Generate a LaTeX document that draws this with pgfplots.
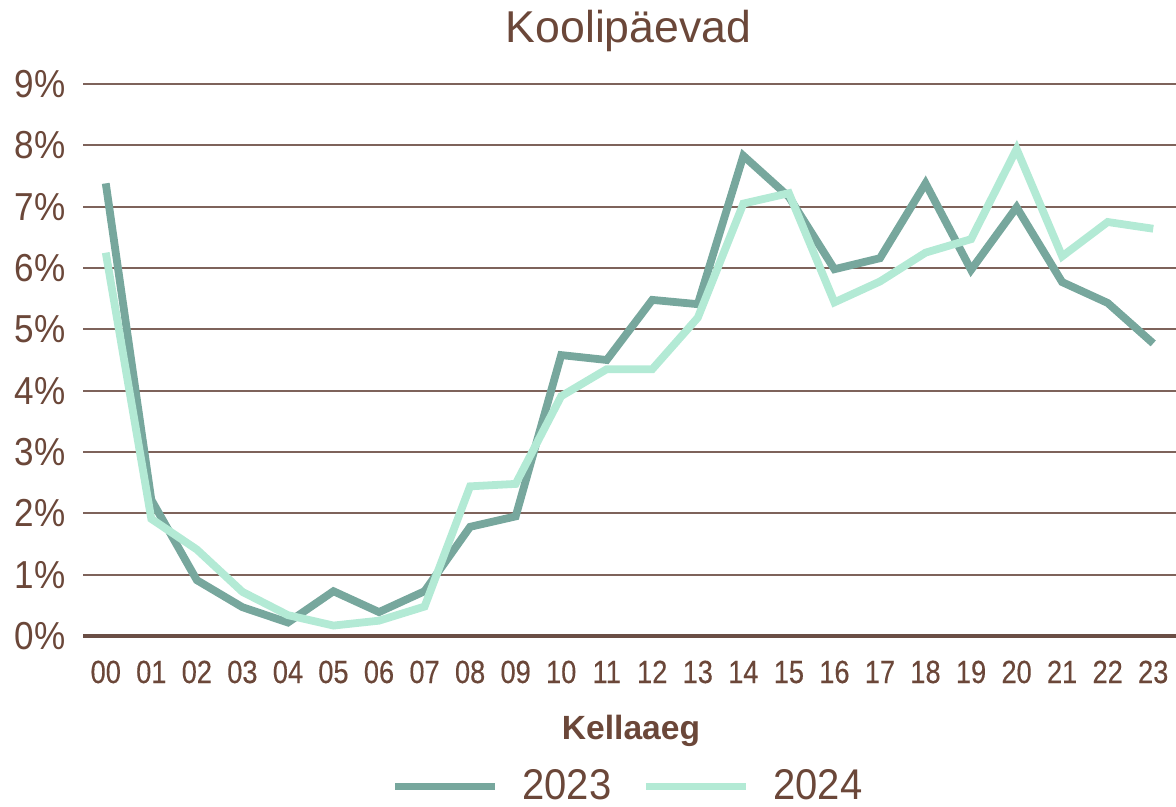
\documentclass[border=0pt]{standalone}
\usepackage{pgfplots}
\pgfplotsset{compat=1.18}
\usepackage{fontspec}
\setmainfont{Liberation Sans}
\newfontfamily\tickyfont[FakeStretch=0.9]{Liberation Sans}
\newfontfamily\tickxfont[FakeStretch=0.85,FakeBold=0.3]{Liberation Sans}
\newfontfamily\legfont[FakeStretch=0.93]{Liberation Sans}
\definecolor{txt}{HTML}{6B4739}
\definecolor{gridc}{HTML}{7E635B}
\definecolor{zero}{HTML}{6A4E45}
\definecolor{c23}{HTML}{77A79D}
\definecolor{c24}{HTML}{B3EAD5}
\begin{document}
\begin{tikzpicture}
\useasboundingbox (0,0) rectangle (588bp,403.5bp);
\begin{axis}[
  at={(41.5bp,85.5bp)}, anchor=south west,
  scale only axis, width=546.5bp, height=276bp,
  xmin=-0.5, xmax=23.5, ymin=0, ymax=9,
  clip=false,
  axis line style={draw=none},
  major tick length=0pt,
  xtick={0,...,23},
  xticklabels={00,01,02,03,04,05,06,07,08,09,10,11,12,13,14,15,16,17,18,19,20,21,22,23},
  xticklabel style={font=\tickxfont\fontsize{16bp}{16bp}\selectfont, text=txt, anchor=base, yshift=-23.5bp, inner sep=0pt},
  ytick={1,...,9},
  yticklabels={1\%,2\%,3\%,4\%,5\%,6\%,7\%,8\%,9\%},
  extra y ticks={0},
  extra y tick labels={0\%},
  extra y tick style={grid style={line width=2bp, color=zero}},
  yticklabel style={font=\tickyfont\fontsize{19.5bp}{19.5bp}\selectfont, text=txt, anchor=east, inner sep=0pt, xshift=-8.5bp},
  ymajorgrids,
  grid style={line width=1.1bp, color=gridc},
  title={Koolipäevad},
  title style={font=\fontsize{22.3bp}{22.3bp}\selectfont, text=txt, at={(0.4991,1.0544)}, anchor=base, inner sep=0pt},
  xlabel={Kellaaeg},
  xlabel style={font=\bfseries\fontsize{16.8bp}{16.8bp}\selectfont, text=txt, at={(0.5014,-0.1866)}, anchor=base, inner sep=0pt},
  legend columns=2,
  legend style={draw=none, fill=none, at={(0.4995,-0.2718)}, anchor=center, inner sep=0pt,
    font=\legfont\fontsize{21.5bp}{21.5bp}\selectfont, text=txt,
    /tikz/every even column/.append style={column sep=13.5bp}},
  legend image code/.code={\draw[#1, line width=3.5bp, line cap=butt] (0bp,0bp) -- (50bp,0bp);},
  every axis plot/.append style={line width=3.9bp, line join=miter},
]
\addplot[c23] coordinates {
(0,7.38) (1,2.22) (2,0.91) (3,0.47) (4,0.22) (5,0.73) (6,0.39) (7,0.73) (8,1.78) (9,1.95)
(10,4.58) (11,4.50) (12,5.48) (13,5.41) (14,7.83) (15,7.16) (16,5.98) (17,6.16) (18,7.38)
(19,5.97) (20,6.99) (21,5.77) (22,5.43) (23,4.77)};
\addlegendentry{\hspace*{10bp}2023}
\addplot[c24] coordinates {
(0,6.25) (1,1.91) (2,1.41) (3,0.72) (4,0.34) (5,0.17) (6,0.25) (7,0.48) (8,2.44) (9,2.48)
(10,3.91) (11,4.35) (12,4.35) (13,5.19) (14,7.05) (15,7.22) (16,5.44) (17,5.78) (18,6.25)
(19,6.47) (20,7.94) (21,6.19) (22,6.75) (23,6.64)};
\addlegendentry{\hspace*{10bp}2024}
\end{axis}
\end{tikzpicture}
\end{document}
